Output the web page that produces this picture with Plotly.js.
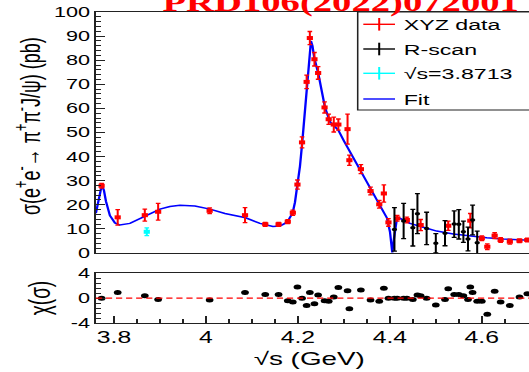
<!DOCTYPE html>
<html>
<head>
<meta charset="utf-8">
<script src="https://cdn.plot.ly/plotly-3.0.1.min.js"></script>
<style>
  html, body { margin: 0; padding: 0; overflow: hidden; background: #fff; width: 529px; height: 372px; }
  #chart { width: 342px; height: 372px; transform-origin: 0 0; }
</style>
</head>
<body>
<div id="chart"></div>
<script>
// XYZ data: cross section of e+e- -> pi+pi- J/psi (pb)
const xyzEnergy = [3.773,3.808,3.867,3.896,4.008,4.085,4.129,4.158,4.178,4.189,4.199,4.209,4.219,4.226,4.236,4.244,4.258,4.267,4.278,4.288,4.308,4.312,4.337,4.358,4.377,4.387,4.397,4.416,4.437,4.467,4.527,4.575,4.600,4.612,4.628,4.641,4.661,4.682,4.699];
const xyzSigma  = [27.9,14.8,15.7,17.1,17.5,15.7,11.9,11.9,13.0,16.7,28.4,45.9,71.0,89.2,80.4,74.7,60.4,55.5,53.3,53.3,51.4,38.5,34.8,25.7,20.2,24.7,12.7,14.4,13.7,11.6,11.3,13.4,6.1,2.6,7.2,5.4,4.7,5.1,5.4];
const xyzError  = [1.0,3.2,2.5,3.5,1.2,3.1,0.8,0.8,0.8,1.1,1.9,2.3,2.8,2.7,2.8,2.6,2.3,2.1,3.1,2.3,6.2,2.1,1.9,1.6,1.6,3.6,1.6,1.2,1.2,2.3,1.9,3.0,1.0,1.2,1.2,1.0,1.0,0.8,0.8];

// R-scan data
const rscanEnergy = [4.410,4.430,4.450,4.460,4.480,4.500,4.520,4.540,4.550,4.560,4.570,4.580,4.590];
const rscanSigma  = [9.8,13.3,10.5,16.3,10.2,4.0,8.2,12.0,11.9,8.8,5.8,13.7,4.3];
const rscanError  = [9.0,7.3,7.6,8.3,6.7,4.0,5.2,5.5,6.1,4.4,4.9,6.2,4.8];

// Single point at sqrt(s) = 3.8713 GeV
const extraEnergy = [3.8713];
const extraSigma  = [8.8];
const extraError  = [1.6];

// Fit curve
const fitEnergy = [3.7606,3.7671,3.7715,3.7752,3.7781,3.7824,3.7911,3.8020,3.8128,3.8346,3.8564,3.8781,3.8999,3.9216,3.9434,3.9760,4.0087,4.0413,4.0863,4.1175,4.1457,4.1610,4.1719,4.1790,4.1886,4.1936,4.1995,4.2045,4.2095,4.2143,4.2191,4.2230,4.2262,4.2284,4.2317,4.2356,4.2443,4.2513,4.2589,4.2696,4.2878,4.3002,4.3132,4.3387,4.3605,4.3785,4.3879,4.3938,4.4003,4.4053,4.4090,4.4123,4.4155,4.4221,4.4438,4.4728,4.5019,4.5380,4.5744,4.6107,4.6468,4.6832,4.7027];
const fitSigma  = [16.5,23.0,26.5,27.5,26.0,21.5,15.5,12.5,11.6,12.3,14.3,16.3,18.2,19.3,19.8,19.5,18.2,16.4,14.6,12.3,11.0,11.2,12.3,13.5,16.7,21.0,28.0,36.0,46.0,58.0,71.0,80.0,86.0,88.0,86.0,81.0,74.5,67.0,60.4,54.5,51.0,46.5,42.0,34.0,25.6,20.0,17.0,14.5,8.8,0.2,6.0,11.5,14.5,14.4,12.3,10.7,9.1,7.9,7.0,6.3,5.8,5.4,5.3];

// Pulls chi = (data - fit) / error
const chiEnergy = [3.773,3.808,3.867,3.896,4.008,4.085,4.129,4.158,4.178,4.189,4.199,4.209,4.219,4.226,4.236,4.244,4.258,4.267,4.278,4.288,4.308,4.312,4.337,4.358,4.377,4.387,4.397,4.410,4.416,4.430,4.437,4.450,4.460,4.467,4.480,4.500,4.520,4.527,4.540,4.550,4.560,4.570,4.575,4.580,4.590,4.600,4.612,4.628,4.641,4.661,4.682,4.699];
const chiValue  = [0.0,0.9,0.4,-0.2,-0.3,0.9,0.6,0.6,-0.4,-0.6,1.8,0.0,-1.2,0.9,-0.9,0.5,-0.4,-0.5,0.2,1.7,1.2,-1.7,1.3,-0.3,-0.5,1.6,0.0,0.0,0.0,0.0,0.0,-0.2,0.5,0.4,0.0,-1.1,-0.2,1.5,0.6,0.6,0.4,-0.2,1.8,0.9,-0.5,-0.5,-2.6,1.1,-0.6,-1.2,0.2,0.7];

// Axis ticks
const xTickVals = [3.8, 4.0, 4.2, 4.4, 4.6];
const xTickText = ['3.8', '4', '4.2', '4.4', '4.6'];
const yTickVals = [0, 10, 20, 30, 40, 50, 60, 70, 80, 90, 100];
const yTickText = ['0', '10', '20', '30', '40', '50', '60', '70', '80', '90', '100'];
const chiTickVals = [-4, 0, 4];
const chiTickText = ['-4', '0', '4'];

const legendLabels = ['XYZ data', 'R-scan', '\u221As=3.8713', 'Fit'];
const legendColors = ['#ff0000', '#000000', '#00ffff', '#0000ff'];

// The figure is laid out narrow and widened by a horizontal stretch.
const PAGE_W = 529, W = 342, H = 372;
const SX = PAGE_W / W;
const M = { l: 62, r: 0, t: 12, b: 49 };
const PW = W - M.l - M.r, PH = H - M.t - M.b;
document.getElementById('chart').style.transform = 'scaleX(' + SX + ')';

// page pixel -> paper fraction
const paperX = px => (px / SX - M.l) / PW;
const paperY = py => (H - M.b - py) / PH;

const FONT = 'Liberation Sans, Arial, sans-serif';
const XRANGE = [3.7606, 4.7027];
const AXC = '#222';

const traces = [
  { x: fitEnergy, y: fitSigma, xaxis: 'x', yaxis: 'y', mode: 'lines',
    line: { color: '#0000ff', width: 1.5 }, showlegend: false, cliponaxis: true },
  { x: xyzEnergy, y: xyzSigma, xaxis: 'x', yaxis: 'y', mode: 'markers',
    marker: { symbol: 'square', size: 4, color: '#ff0000' },
    error_y: { type: 'data', array: xyzError, visible: true, color: '#ff0000', thickness: 1.3, width: 1.5 },
    showlegend: false },
  { x: rscanEnergy, y: rscanSigma, xaxis: 'x', yaxis: 'y', mode: 'markers',
    marker: { symbol: 'circle', size: 3.5, color: '#000000' },
    error_y: { type: 'data', array: rscanError, visible: true, color: '#000000', thickness: 1.3, width: 1.6 },
    showlegend: false },
  { x: extraEnergy, y: extraSigma, xaxis: 'x', yaxis: 'y', mode: 'markers',
    marker: { symbol: 'square', size: 4, color: '#00ffff' },
    error_y: { type: 'data', array: extraError, visible: true, color: '#00ffff', thickness: 1.3, width: 1.5 },
    showlegend: false },
  { x: chiEnergy, y: chiValue, xaxis: 'x2', yaxis: 'y2', mode: 'markers',
    marker: { symbol: 'circle', size: 5, color: '#000000' }, showlegend: false }
];

// Legend box and entries
const legendRows = [24.3, 49, 73.3, 99];
const shapes = [
  { type: 'line', xref: 'x2 domain', x0: 0, x1: 1, yref: 'y2', y0: 0, y1: 0,
    line: { color: '#ff0000', width: 1.2, dash: '4px,2.5px' } },
  { type: 'rect', xref: 'paper', yref: 'paper', x0: paperX(357.7), x1: 1.05, y0: paperY(110), y1: 1,
    line: { color: AXC, width: 1 }, fillcolor: '#ffffff', layer: 'above' }
];
const annotations = [];
legendLabels.forEach((label, i) => {
  const yc = legendRows[i];
  shapes.push({ type: 'line', xref: 'paper', yref: 'paper',
    x0: paperX(363.3), x1: paperX(395), y0: paperY(yc), y1: paperY(yc),
    line: { color: legendColors[i], width: 1.4 }, layer: 'above' });
  if (i < 3) {
    shapes.push({ type: 'line', xref: 'paper', yref: 'paper',
      x0: paperX(379.2), x1: paperX(379.2), y0: paperY(yc - 6.3), y1: paperY(yc + 6.3),
      line: { color: legendColors[i], width: 1.3 }, layer: 'above' });
  }
  annotations.push({ text: label, xref: 'paper', yref: 'paper', x: paperX(400), y: paperY(yc),
    xanchor: 'left', yanchor: 'middle', showarrow: false,
    font: { family: FONT, size: 15, color: '#000' } });
});

annotations.push(
  { text: 'PRD106(2022)072001', xref: 'paper', yref: 'paper', x: paperX(341), y: paperY(19.5),
    xanchor: 'center', yanchor: 'bottom', showarrow: false,
    font: { family: 'Liberation Serif, Times New Roman, serif', size: 25, color: '#ff0000', weight: 'bold' } },
  { text: '\u03C3(e<sup>+</sup>e<sup>-</sup>\u2192 \u03C0<sup>+</sup>\u03C0<sup>-</sup>J/\u03C8) (pb)',
    xref: 'paper', yref: 'paper', x: paperX(28), y: paperY(126), textangle: -90,
    xanchor: 'center', yanchor: 'middle', showarrow: false,
    font: { family: FONT, size: 18, color: '#000' } },
  { text: '\u03C7(\u03C3)', xref: 'paper', yref: 'paper', x: paperX(40), y: paperY(298.3), textangle: -90,
    xanchor: 'center', yanchor: 'middle', showarrow: false,
    font: { family: FONT, size: 19, color: '#000' } },
  { text: '\u221As (GeV)', xref: 'paper', yref: 'paper', x: paperX(309), y: paperY(359),
    xanchor: 'center', yanchor: 'middle', showarrow: false,
    font: { family: FONT, size: 18, color: '#000' } }
);

const baseAxis = { showgrid: false, zeroline: false, showline: true, linecolor: AXC, linewidth: 1,
  tickcolor: AXC, tickwidth: 1 };

const layout = {
  width: W, height: H, margin: M,
  paper_bgcolor: '#fff', plot_bgcolor: '#fff',
  showlegend: false, hovermode: false,
  font: { family: FONT, color: '#000' },
  xaxis: Object.assign({}, baseAxis, { domain: [0, 1], anchor: 'y', range: XRANGE,
    showticklabels: false, ticks: '', mirror: true }),
  yaxis: Object.assign({}, baseAxis, { domain: [paperY(253), 1], anchor: 'x', range: [0, 100],
    tickmode: 'array', tickvals: yTickVals, ticktext: yTickText,
    ticks: 'inside', ticklen: 6, tickfont: { family: FONT, size: 14, color: '#000' },
    minor: { tickmode: 'linear', tick0: 0, dtick: 2, ticks: 'inside', ticklen: 3, tickcolor: AXC, tickwidth: 1 } }),
  xaxis2: Object.assign({}, baseAxis, { domain: [0, 1], anchor: 'y2', range: XRANGE, mirror: true,
    tickmode: 'array', tickvals: xTickVals, ticktext: xTickText,
    ticks: 'inside', ticklen: 7, tickfont: { family: FONT, size: 16, color: '#000' },
    minor: { tickmode: 'linear', tick0: 3.8, dtick: 0.05, ticks: 'inside', ticklen: 4, tickcolor: AXC, tickwidth: 1 } }),
  yaxis2: Object.assign({}, baseAxis, { domain: [0, paperY(273.3)], anchor: 'x2', range: [-4, 4],
    tickmode: 'array', tickvals: chiTickVals, ticktext: chiTickText,
    ticks: 'inside', ticklen: 6, tickfont: { family: FONT, size: 14, color: '#000' },
    minor: { tickmode: 'linear', tick0: 0, dtick: 0.8, ticks: 'inside', ticklen: 3, tickcolor: AXC, tickwidth: 1 } }),
  shapes: shapes,
  annotations: annotations
};

Plotly.newPlot('chart', traces, layout, { staticPlot: true, displayModeBar: false });
</script>
</body>
</html>
